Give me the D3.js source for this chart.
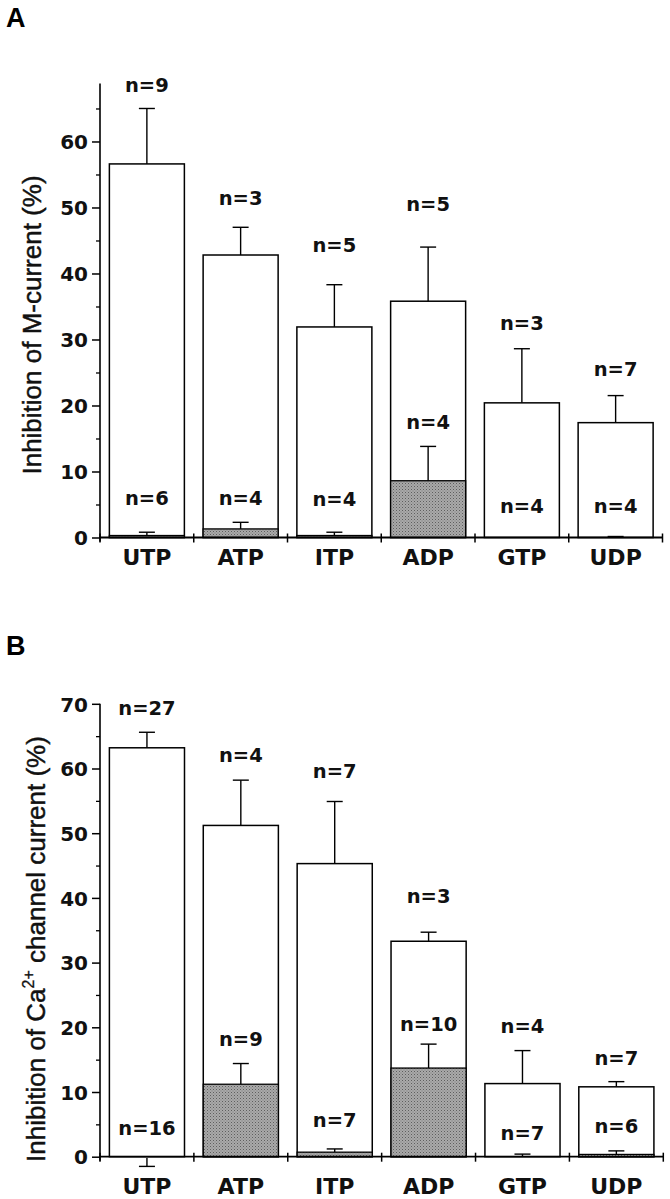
<!DOCTYPE html>
<html>
<head>
<meta charset="utf-8">
<script src="https://cdn.jsdelivr.net/npm/d3@7"></script>
<style>
  html, body { margin: 0; padding: 0; background: #fff; }
  svg { display: block; }
</style>
</head>
<body>
<svg id="chart" width="670" height="1199"></svg>
<script>
// ---------- data ----------
const categories = ["UTP", "ATP", "ITP", "ADP", "GTP", "UDP"];

// Panel A: inhibition of M-current (%)
const meanA        = [56.6, 42.8, 31.9, 35.8, 20.4, 17.4];
const semA         = [8.4, 4.2, 6.4, 8.2, 8.2, 4.1];
const shadedA      = [0.3, 1.3, 0.3, 8.6, 0, 0];
const shadedSemA   = [0.5, 1.0, 0.5, 5.2, 0, 0.15];
const nTopA        = ["n=9", "n=3", "n=5", "n=5", "n=3", "n=7"];
const nTopAY       = [67.5, 50.4, 43.2, 49.4, 31.4, 24.4];
const nLowA        = ["n=6", "n=4", "n=4", "n=4", "n=4", "n=4"];
const nLowAY       = [4.9, 4.9, 4.7, 16.5, 3.7, 3.7];
const yMaxA        = 68.8;
const titleA       = "Inhibition of M-current (%)";

// Panel B: inhibition of Ca2+ channel current (%)
const meanB        = [63.2, 51.2, 45.3, 33.3, 11.3, 10.8];
const semB         = [2.4, 7.0, 9.6, 1.4, 5.1, 0.8];
const shadedB      = [-0.2, 11.2, 0.7, 13.7, 0, 0.35];
const shadedSemB   = [1.3, 3.2, 0.5, 3.7, 0.4, 0.55];
const nTopB        = ["n=27", "n=4", "n=7", "n=3", "n=4", "n=7"];
const nTopBY       = [68.2, 61.0, 58.6, 39.2, 19.1, 14.2];
const nLowB        = ["n=16", "n=9", "n=7", "n=10", "n=7", "n=6"];
const nLowBY       = [3.35, 17.1, 4.6, 19.5, 2.6, 3.6];
const yMaxB        = 70;

const majorTicksA  = [0, 10, 20, 30, 40, 50, 60];
const minorTicksA  = [5, 15, 25, 35, 45, 55, 65];
const majorTicksB  = [0, 10, 20, 30, 40, 50, 60, 70];
const minorTicksB  = [5, 15, 25, 35, 45, 55, 65];

// ---------- drawing ----------
const svg = d3.select("#chart");
const defs = svg.append("defs");
const pat = defs.append("pattern")
  .attr("id", "stipple").attr("width", 3).attr("height", 3)
  .attr("patternUnits", "userSpaceOnUse");
pat.append("rect").attr("width", 3).attr("height", 3).attr("fill", "#a9a9a9");
pat.append("rect").attr("x", 0).attr("y", 0).attr("width", 1).attr("height", 1).attr("fill", "#5e5e5e");
pat.append("rect").attr("x", 1.5).attr("y", 1.5).attr("width", 1).attr("height", 1).attr("fill", "#7a7a7a");

const numFont = "'DejaVu Sans', sans-serif";

function panel(cfg) {
  const g = svg.append("g");
  const x = d3.scaleBand().domain(categories)
    .range([cfg.x0, cfg.x1]).paddingInner(0.2).paddingOuter(0.1);
  const y = d3.scaleLinear().domain([0, cfg.yMax]).range([cfg.yBottom, cfg.yTop]);
  const step = x.step();
  const edge = d3.scaleLinear().domain([0, categories.length]).range([cfg.x0, cfg.x1]);

  // y axis major
  const axMaj = d3.axisLeft(y).tickValues(cfg.major).tickSize(8).tickSizeOuter(0).tickPadding(4)
    .tickFormat(d3.format("d"));
  const gMaj = g.append("g").attr("transform", `translate(${cfg.x0},0)`).call(axMaj);
  gMaj.select(".domain").remove();
  gMaj.selectAll("line").attr("stroke", "#000").attr("stroke-width", 1.5);
  gMaj.selectAll("text").attr("font-family", numFont).attr("font-weight", "bold")
    .attr("font-size", 20).attr("fill", "#111").attr("dy", "0.36em");
  // y axis minor
  const axMin = d3.axisLeft(y).tickValues(cfg.minor).tickSize(4).tickSizeOuter(0).tickFormat("");
  const gMin = g.append("g").attr("transform", `translate(${cfg.x0},0)`).call(axMin);
  gMin.select(".domain").remove();
  gMin.selectAll("line").attr("stroke", "#000").attr("stroke-width", 1.3);
  // y domain line
  g.append("line").attr("x1", cfg.x0).attr("x2", cfg.x0)
    .attr("y1", y(cfg.yMax)).attr("y2", y(0) + 4)
    .attr("stroke", "#000").attr("stroke-width", 1.6);

  // bars (white)
  categories.forEach((c, i) => {
    const bx = x(c), bw = x.bandwidth();
    // error bar
    g.append("line").attr("x1", bx + bw / 2).attr("x2", bx + bw / 2)
      .attr("y1", y(cfg.mean[i])).attr("y2", y(cfg.mean[i] + cfg.sem[i]))
      .attr("stroke", "#000").attr("stroke-width", 1.4);
    g.append("line").attr("x1", bx + bw / 2 - 8).attr("x2", bx + bw / 2 + 8)
      .attr("y1", y(cfg.mean[i] + cfg.sem[i])).attr("y2", y(cfg.mean[i] + cfg.sem[i]))
      .attr("stroke", "#000").attr("stroke-width", 1.4);
    g.append("rect").attr("x", bx).attr("width", bw)
      .attr("y", y(cfg.mean[i])).attr("height", y(0) - y(cfg.mean[i]))
      .attr("fill", "#fff").attr("stroke", "#000").attr("stroke-width", 1.5);
  });
  // shaded bars
  categories.forEach((c, i) => {
    const bx = x(c), bw = x.bandwidth();
    const m = cfg.shaded[i], s = cfg.shadedSem[i];
    const top = m >= 0 ? m + s : m - s;
    if (s > 0) {
      g.append("line").attr("x1", bx + bw / 2).attr("x2", bx + bw / 2)
        .attr("y1", y(m)).attr("y2", y(top))
        .attr("stroke", "#000").attr("stroke-width", 1.4);
      g.append("line").attr("x1", bx + bw / 2 - 8).attr("x2", bx + bw / 2 + 8)
        .attr("y1", y(top)).attr("y2", y(top))
        .attr("stroke", "#000").attr("stroke-width", 1.4);
    }
    if (m > 0) {
      g.append("rect").attr("x", bx).attr("width", bw)
        .attr("y", y(m)).attr("height", y(0) - y(m))
        .attr("fill", "url(#stipple)").attr("stroke", "#000").attr("stroke-width", 1.3);
    }
  });

  // x axis
  g.append("line").attr("x1", cfg.x0).attr("x2", cfg.x1)
    .attr("y1", y(0)).attr("y2", y(0)).attr("stroke", "#000").attr("stroke-width", 1.8);
  d3.range(0, categories.length + 1).forEach(k => {
    g.append("line").attr("x1", edge(k)).attr("x2", edge(k))
      .attr("y1", y(0) - 4).attr("y2", y(0) + 5)
      .attr("stroke", "#000").attr("stroke-width", 1.5);
  });
  // category labels
  g.selectAll("text.cat").data(categories).join("text").attr("class", "cat")
    .attr("x", d => x(d) + x.bandwidth() / 2).attr("y", cfg.catBaseline)
    .attr("text-anchor", "middle").attr("font-family", numFont).attr("font-weight", "bold")
    .attr("font-size", 22).attr("fill", "#111").text(d => d);

  // n labels
  const lab = (texts, ys) => {
    texts.forEach((t, i) => {
      g.append("text").attr("x", x(categories[i]) + x.bandwidth() / 2).attr("y", y(ys[i]))
        .attr("text-anchor", "middle").attr("font-family", numFont).attr("font-weight", "bold")
        .attr("font-size", 19.5).attr("fill", "#111").text(t);
    });
  };
  lab(cfg.nTop, cfg.nTopY);
  lab(cfg.nLow, cfg.nLowY);

  // y title
  const tt = g.append("text")
    .attr("transform", `translate(${cfg.titleX},${cfg.titleY}) rotate(-90)`)
    .attr("text-anchor", "middle").attr("font-family", "'Liberation Sans', Arial, sans-serif")
    .attr("font-size", 26).attr("fill", "#111").attr("stroke", "#111").attr("stroke-width", 0.45);
  cfg.title(tt);

  // panel letter
  g.append("text").attr("x", 6).attr("y", cfg.letterY)
    .attr("font-family", "'Liberation Sans', Arial, sans-serif").attr("font-weight", "bold")
    .attr("font-size", 27).attr("fill", "#000").text(cfg.letter);
}

panel({
  x0: 100, x1: 662.5, yBottom: 537.5, yTop: 83.4, yMax: yMaxA,
  major: majorTicksA, minor: minorTicksA,
  mean: meanA, sem: semA, shaded: shadedA, shadedSem: shadedSemA,
  nTop: nTopA, nTopY: nTopAY, nLow: nLowA, nLowY: nLowAY,
  catBaseline: 565, titleX: 41, titleY: 325,
  title: t => t.text(titleA),
  letter: "A", letterY: 27
});

panel({
  x0: 100, x1: 663.3, yBottom: 1156.7, yTop: 703.8, yMax: yMaxB,
  major: majorTicksB, minor: minorTicksB,
  mean: meanB, sem: semB, shaded: shadedB, shadedSem: shadedSemB,
  nTop: nTopB, nTopY: nTopBY, nLow: nLowB, nLowY: nLowBY,
  catBaseline: 1194, titleX: 45, titleY: 949,
  title: t => {
    t.append("tspan").text("Inhibition of Ca");
    t.append("tspan").attr("font-size", 16).attr("dy", -11).attr("stroke-width", 0.3).text("2+");
    t.append("tspan").attr("dy", 11).text(" channel current (%)");
  },
  letter: "B", letterY: 655
});
</script>
</body>
</html>
